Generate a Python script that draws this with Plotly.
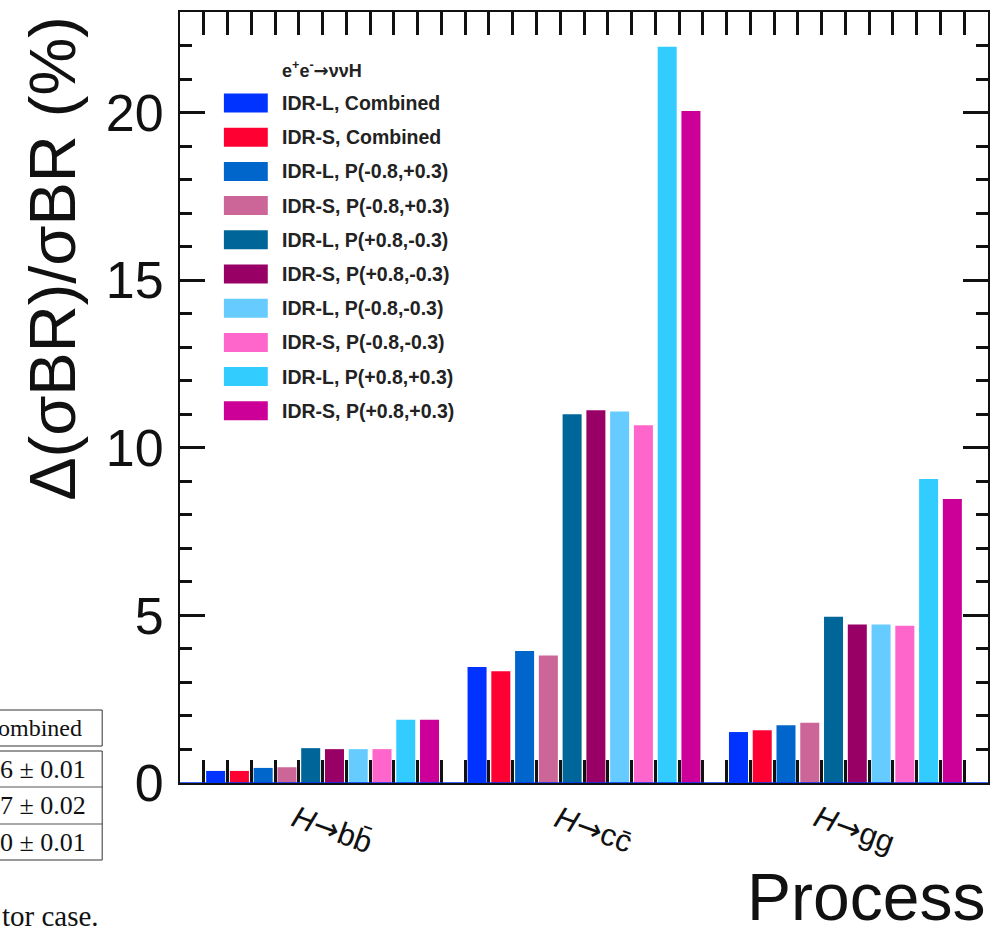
import plotly.graph_objects as go

ARROW = "<span style='font-family:DejaVu Sans'>→</span>"

# Processes (groups along the x axis)
processes = ["<i>H</i>" + ARROW + "bb\u0304", "<i>H</i>" + ARROW + "cc\u0304", "<i>H</i>" + ARROW + "gg"]

# Detector / polarisation configurations
series_names = [
    "IDR-L, Combined",
    "IDR-S, Combined",
    "IDR-L, P(-0.8,+0.3)",
    "IDR-S, P(-0.8,+0.3)",
    "IDR-L, P(+0.8,-0.3)",
    "IDR-S, P(+0.8,-0.3)",
    "IDR-L, P(-0.8,-0.3)",
    "IDR-S, P(-0.8,-0.3)",
    "IDR-L, P(+0.8,+0.3)",
    "IDR-S, P(+0.8,+0.3)",
]
series_colors = [
    "#0033FF", "#FF0033", "#0066CC", "#CC6699", "#006699",
    "#990066", "#66CCFF", "#FF66CC", "#33CCFF", "#CC0099",
]

# Relative precision Delta(sigma BR)/sigma BR in %, per process (bb, cc, gg)
idr_l_comb = [0.36, 3.46, 1.52]
idr_s_comb = [0.36, 3.33, 1.57]
idr_l_m08_p03 = [0.45, 3.94, 1.72]
idr_s_m08_p03 = [0.47, 3.80, 1.80]
idr_l_p08_m03 = [1.04, 11.00, 4.96]
idr_s_p08_m03 = [1.01, 11.12, 4.73]
idr_l_m08_m03 = [1.01, 11.08, 4.73]
idr_s_m08_m03 = [1.01, 10.67, 4.69]
idr_l_p08_p03 = [1.89, 21.96, 9.07]
idr_s_p08_p03 = [1.89, 20.05, 8.47]

series_values = [
    idr_l_comb, idr_s_comb, idr_l_m08_p03, idr_s_m08_p03, idr_l_p08_m03,
    idr_s_p08_m03, idr_l_m08_m03, idr_s_m08_m03, idr_l_p08_p03, idr_s_p08_p03,
]

legend_title = "e<sup>+</sup>e<sup>-</sup>" + ARROW + "ννH"

# Left-hand table fragment and caption text
table_header = "ombined"
table_rows = ["6 ± 0.01", "7 ± 0.02", "0 ± 0.01"]
caption_tail = "tor case."

n_series = len(series_names)
group_span = n_series + 1          # one empty bin between groups
n_bins = 1 + group_span * len(processes)
y_max = 23.0

W, H = 990, 930
ML, MR, MT, MB = 180, 0, 12, 147
PW, PH = W - ML - MR, H - MT - MB


def px_x(px):
    return (px - ML) / PW


def px_y(py):
    return (H - MB - py) / PH


fig = go.Figure()
for k, (name, color, vals) in enumerate(zip(series_names, series_colors, series_values)):
    xs = [1 + group_span * p + k + 0.5 for p in range(len(processes))]
    fig.add_trace(go.Bar(
        x=xs, y=vals, width=0.8, name=name,
        marker=dict(color=color, line=dict(width=0)),
        showlegend=False,
    ))

# Blue zero-level line of the histogram
fig.add_shape(type="line", xref="paper", yref="y", x0=0, x1=1, y0=0, y1=0,
              line=dict(color="#0033FF", width=1.5), layer="above")

# Legend drawn as swatches + labels
row0, drow = 103, 34.2
for k, (name, color) in enumerate(zip(series_names, series_colors)):
    yc = row0 + drow * k
    fig.add_shape(type="rect", xref="paper", yref="paper",
                  x0=px_x(224), x1=px_x(268), y0=px_y(yc + 9.5), y1=px_y(yc - 9.5),
                  fillcolor=color, line=dict(width=0))
    fig.add_annotation(xref="paper", yref="paper", x=px_x(280), y=px_y(yc),
                       xanchor="left", yanchor="middle", showarrow=False,
                       text="<b>" + name + "</b>",
                       font=dict(family="Liberation Sans", size=19.5, color="#222"))
fig.add_annotation(xref="paper", yref="paper", x=px_x(280), y=px_y(70),
                   xanchor="left", yanchor="middle", showarrow=False,
                   text="<b>" + legend_title + "</b>",
                   font=dict(family="Liberation Sans", size=18, color="#222"))

# Process labels, tilted
for p, lab in enumerate(processes):
    xc = 1 + group_span * p + n_series / 2 + 0.4
    fig.add_annotation(xref="x", yref="paper", x=xc, y=px_y(829),
                       xanchor="center", yanchor="middle", showarrow=False,
                       text=lab, textangle=20,
                       font=dict(family="Liberation Sans, DejaVu Sans", size=31, color="#111"))

# Axis titles
fig.add_annotation(xref="paper", yref="paper", x=px_x(989), y=px_y(897),
                   xanchor="right", yanchor="middle", showarrow=False,
                   text="Process", font=dict(family="Liberation Sans", size=66, color="#111"))
fig.add_annotation(xref="paper", yref="paper", x=px_x(52), y=px_y(14),
                   xanchor="center", yanchor="top", showarrow=False,
                   text="Δ(σBR)/σBR (%)", textangle=-90,
                   font=dict(family="Liberation Sans", size=65, color="#111"))

# Table fragment on the left
serif = dict(family="Liberation Serif, DejaVu Serif", size=24, color="#111")
fig.add_shape(type="rect", xref="paper", yref="paper",
              x0=px_x(-10), x1=px_x(102), y0=px_y(746), y1=px_y(710),
              line=dict(color="#333", width=1))
fig.add_shape(type="rect", xref="paper", yref="paper",
              x0=px_x(-10), x1=px_x(102), y0=px_y(860), y1=px_y(751),
              line=dict(color="#333", width=1))
for yl in (787, 824):
    fig.add_shape(type="line", xref="paper", yref="paper",
                  x0=px_x(-10), x1=px_x(102), y0=px_y(yl), y1=px_y(yl),
                  line=dict(color="#555", width=1))
fig.add_annotation(xref="paper", yref="paper", x=px_x(84), y=px_y(728),
                   xanchor="right", yanchor="middle", showarrow=False,
                   text=table_header, font=serif)
for i, t in enumerate(table_rows):
    fig.add_annotation(xref="paper", yref="paper", x=px_x(88), y=px_y(769 + 36.5 * i),
                       xanchor="right", yanchor="middle", showarrow=False,
                       text=t, font=dict(serif, size=26))
fig.add_annotation(xref="paper", yref="paper", x=px_x(0), y=px_y(916),
                   xanchor="left", yanchor="middle", showarrow=False,
                   text=caption_tail, font=dict(serif, size=29))

fig.update_layout(
    width=W, height=H,
    margin=dict(l=ML, r=MR, t=MT, b=MB),
    paper_bgcolor="white", plot_bgcolor="white",
    barmode="overlay",
    showlegend=False,
    xaxis=dict(
        range=[0, n_bins], tickmode="linear", tick0=0, dtick=1,
        ticks="inside", ticklen=23, tickwidth=3, tickcolor="#111",
        showticklabels=False, showgrid=False, zeroline=False,
        showline=True, linecolor="#111", linewidth=2, mirror="ticks",
    ),
    yaxis=dict(
        range=[0, y_max], tickmode="linear", tick0=0, dtick=5,
        ticks="inside", ticklen=25, tickwidth=2.5, tickcolor="#111",
        minor=dict(dtick=1, ticks="inside", ticklen=12, tickwidth=2.5, tickcolor="#111"),
        showgrid=False, zeroline=False,
        showline=True, linecolor="#111", linewidth=2, mirror="ticks",
        tickfont=dict(family="Liberation Sans", size=52, color="#111"),
        ticklabelstandoff=4,
    ),
)

fig.write_html("out.html")
